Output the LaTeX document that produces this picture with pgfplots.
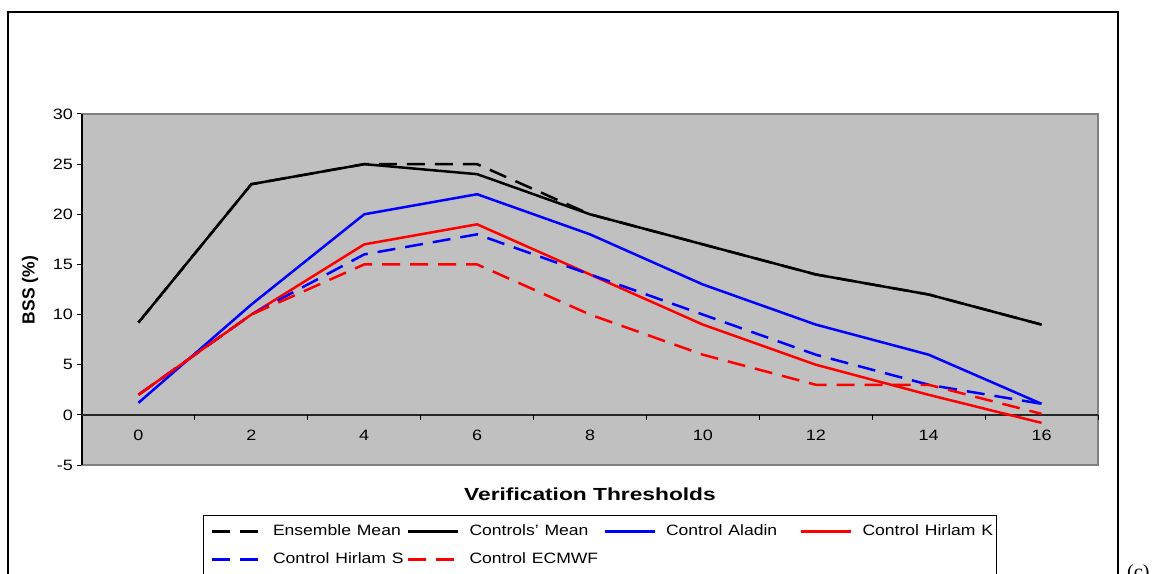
\documentclass[border=0pt]{standalone}
\usepackage{fontspec}
\setmainfont{Liberation Sans}
\newfontfamily\serif{Liberation Serif}
\usepackage{graphicx}
\usepackage{pgfplots}
\pgfplotsset{compat=1.18}
\definecolor{plotgray}{RGB}{192,192,192}
\definecolor{framegray}{RGB}{128,128,128}
\definecolor{myblue}{RGB}{0,0,255}
\definecolor{myred}{RGB}{255,0,0}
\newcommand{\fs}{\fontsize{15bp}{18bp}\selectfont}
\newcommand{\ft}{\fontsize{17.5bp}{20bp}\selectfont}
\newcommand{\sx}[1]{\scalebox{1.2}[1]{#1}}
\newcommand{\lx}[1]{\scalebox{1.17}[1]{#1}}
\begin{document}
\begin{tikzpicture}
\draw[line width=1.5bp] (8bp,-30bp) -- (8bp,562bp) -- (1118bp,562bp) -- (1118bp,-30bp);
\begin{axis}[
  at={(82bp,109bp)}, anchor=south west,
  scale only axis, width=1016bp, height=351bp,
  xmin=-0.5, xmax=8.5, ymin=-5, ymax=30,
  xtick=\empty,
  ytick={-5,0,...,30},
  ytick pos=left, tick align=outside, major tick length=5bp,
  tick style={black, line width=1bp},
  axis background/.style={fill=plotgray},
  axis line style={draw=framegray, line width=1.5bp},
  /pgf/number format/assume math mode=true,
  yticklabel={\sx{\pgfmathprintnumber{\tick}}},
  yticklabel style={font=\fs, inner xsep=4bp},
  clip=false,
  legend columns=4,
  legend cell align=left,
  legend style={at={(0.1191,-0.14245)}, anchor=north west, draw=black, line width=1bp,
    inner xsep=7bp, inner ysep=2bp, font=\fs,
    nodes={text width=132bp, align=left, inner xsep=2bp, inner ysep=7bp, text height=11bp, text depth=3bp}},
  legend image code/.code={\draw[#1] (0bp,0bp) -- (50bp,0bp); \path (58bp,0bp);},
  every axis plot/.append style={line width=2.5bp, line join=round},
]
\draw[black, line width=1.5bp] (rel axis cs:0,0) -- (rel axis cs:0,1);
\draw[black!85, line width=1.5bp] (axis cs:-0.5,0) -- (axis cs:8.5,0);
\pgfplotsinvokeforeach{0.5,1.5,...,8.5}{\draw[black, line width=1bp] (axis cs:#1,0) -- ([yshift=-5bp]axis cs:#1,0);}
\pgfplotsinvokeforeach{0,...,8}{\node[font=\fs] at (axis cs:#1,-2) {\sx{\pgfmathparse{int(2*#1)}\pgfmathresult}};}

\addplot[black, dash pattern=on 18bp off 10bp] coordinates {(0,9.2) (1,23) (2,25) (3,25) (4,20) (5,17) (6,14) (7,12) (8,9)};
\addlegendentry{\lx{Ensemble Mean}}
\addplot[black] coordinates {(0,9.2) (1,23) (2,25) (3,24) (4,20) (5,17) (6,14) (7,12) (8,9)};
\addlegendentry{\lx{Controls' Mean}}
\addplot[myblue] coordinates {(0,1.2) (1,11) (2,20) (3,22) (4,18) (5,13) (6,9) (7,6) (8,1.1)};
\addlegendentry{\lx{Control Aladin}}
\addplot[myred] coordinates {(0,2) (1,10) (2,17) (3,19) (4,14) (5,9) (6,5) (7,2) (8,-0.8)};
\addlegendentry[text width=125bp]{\lx{Control Hirlam K}}
\addplot[myblue, dash pattern=on 18bp off 10bp] coordinates {(0,2) (1,10) (2,16) (3,18) (4,14) (5,10) (6,6) (7,3) (8,1.1)};
\addlegendentry{\lx{Control Hirlam S}}
\addplot[myred, dash pattern=on 18bp off 10bp] coordinates {(0,2) (1,10) (2,15) (3,15) (4,10) (5,6) (6,3) (7,3) (8,0.1)};
\addlegendentry{\lx{Control ECMWF}}
\end{axis}
\node[rotate=90, font=\bfseries\ft] at (30bp,284bp) {BSS (\%)};
\node[font=\bfseries\ft] at (590bp,80bp) {\scalebox{1.3}[1]{Verification Thresholds}};
\node[anchor=north west, font=\serif\fontsize{20bp}{24bp}\selectfont, inner sep=0pt] at (1127bp,10bp) {(c)};
\pgfresetboundingbox
\useasboundingbox (0,0) rectangle (1162bp,574bp);
\end{tikzpicture}
\end{document}
